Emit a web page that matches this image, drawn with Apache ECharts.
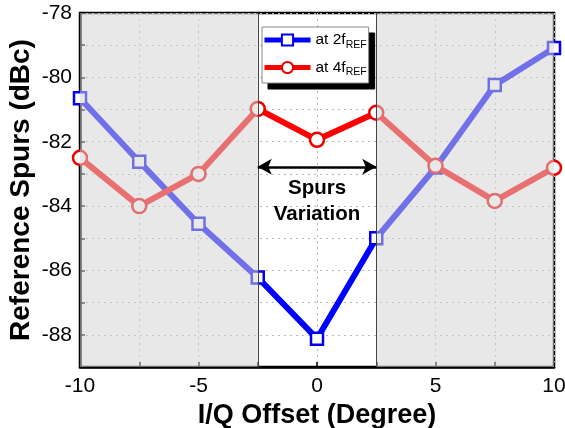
<!DOCTYPE html>
<html>
<head>
<meta charset="utf-8">
<script src="https://cdn.jsdelivr.net/npm/echarts@6/dist/echarts.min.js"></script>
<style>html,body{margin:0;padding:0;background:#fff;}#c{width:565px;height:428px;}</style>
</head>
<body>
<div id="c"></div>
<script>
var xVals = [-10, -7.5, -5, -2.5, 0, 2.5, 5, 7.5, 10];
var spur2f = [-80.65, -82.62, -84.55, -86.22, -88.12, -85.0, -82.8, -80.24, -79.09];
var spur4f = [-82.5, -84.0, -83.0, -80.98, -81.94, -81.1, -82.75, -83.84, -82.81];
var xTicks = [-10, -5, 0, 5, 10];
var yTicks = [-78, -80, -82, -84, -86, -88];
var shadeRanges = [[-10, -2.5], [2.5, 10]];
var bounds = [-2.5, 2.5];
var arrowY = -82.78;
var noteText = 'Spurs\nVariation';
var notePos = [0, -83.85];
var seriesNames = ['at 2f', 'at 4f'];

var FONT = 'Liberation Sans, Arial, sans-serif';
function pairs(xs, ys) { return xs.map(function (x, i) { return [x, ys[i]]; }); }

function legendBase(visible) {
  return {
    data: seriesNames,
    orient: 'vertical',
    selectedMode: false,
    padding: [5, 2, 5, 0],
    itemWidth: 46, itemHeight: 14, itemGap: 9,
    formatter: function (n) { return '{a|' + n + '}{s|REF}'; },
    lineStyle: visible ? { width: 5 } : { width: 5, opacity: 0 },
    itemStyle: visible ? {} : { opacity: 0 },
    textStyle: {
      fontFamily: FONT, color: visible ? '#000' : 'transparent',
      rich: {
        a: { fontFamily: FONT, fontSize: 15.5, color: visible ? '#000' : 'transparent' },
        s: { fontFamily: FONT, fontSize: 10.5, color: visible ? '#000' : 'transparent', padding: [10, 0, 0, 0] }
      }
    }
  };
}
var shadowLegend = legendBase(false);
shadowLegend.left = 268; shadowLegend.top = 33; shadowLegend.z = 19;
shadowLegend.backgroundColor = '#000'; shadowLegend.borderColor = '#000'; shadowLegend.borderWidth = 1;
var mainLegend = legendBase(true);
mainLegend.left = 262; mainLegend.top = 27; mainLegend.z = 20;
mainLegend.backgroundColor = '#fff'; mainLegend.borderColor = '#888'; mainLegend.borderWidth = 1;

var chart = echarts.init(document.getElementById('c'), null, { renderer: 'canvas' });
chart.setOption({
  animation: false,
  backgroundColor: '#fff',
  grid: { left: 80, right: 11, top: 13, bottom: 61, outerBoundsMode: 'none', containLabel: false, show: true, borderColor: '#000', borderWidth: 2.5, backgroundColor: 'transparent' },
  legend: [shadowLegend, mainLegend],
  xAxis: {
    type: 'value', min: -10, max: 10, interval: 2.5,
    axisLine: { show: true, onZero: false, lineStyle: { color: '#000', width: 2.5 } },
    axisTick: { show: true, inside: true, length: 5, lineStyle: { color: '#000', width: 1.5 } },
    axisLabel: {
      fontFamily: FONT, fontSize: 21, color: '#000', margin: 9,
      formatter: function (v) { return xTicks.indexOf(v) >= 0 ? String(v) : ''; }
    },
    splitLine: { show: true, lineStyle: { color: '#b8b8b8', type: [2, 4], width: 1 } },
    name: 'I/Q Offset (Degree)', nameLocation: 'middle', nameGap: 27,
    nameTextStyle: { fontFamily: FONT, fontSize: 27, fontWeight: 'bold', color: '#000' }
  },
  yAxis: {
    type: 'value', min: -89, max: -78, interval: 1,
    axisLine: { show: true, onZero: false, lineStyle: { color: '#000', width: 2.5 } },
    axisTick: { show: true, inside: true, length: 5, lineStyle: { color: '#000', width: 1.5 } },
    axisLabel: {
      fontFamily: FONT, fontSize: 21, color: '#000', margin: 8,
      formatter: function (v) { return yTicks.indexOf(v) >= 0 ? String(v) : ''; }
    },
    splitLine: { show: true, lineStyle: { color: '#b8b8b8', type: [2, 4], width: 1 } },
    name: 'Reference Spurs (dBc)', nameLocation: 'middle', nameGap: 45, nameMoveOverlap: false,
    nameTextStyle: { fontFamily: FONT, fontSize: 28, fontWeight: 'bold', color: '#000' }
  },
  series: [
    {
      name: seriesNames[0], type: 'line', z: 3,
      data: pairs(xVals, spur2f),
      symbol: 'rect', symbolSize: 12,
      lineStyle: { color: '#0000ff', width: 6 },
      itemStyle: { color: '#fff', borderColor: '#0000ee', borderWidth: 2.5 },
      clip: false
    },
    {
      name: seriesNames[1], type: 'line', z: 4,
      data: pairs(xVals, spur4f),
      symbol: 'circle', symbolSize: 14,
      lineStyle: { color: '#ff0000', width: 6 },
      itemStyle: { color: '#fff', borderColor: '#ee0000', borderWidth: 2.5 },
      clip: false
    },
    {
      type: 'line', z: 10, data: [], silent: true,
      markArea: {
        z: 10, silent: true,
        itemStyle: { color: 'rgba(211,211,211,0.53)' },
        data: shadeRanges.map(function (r) { return [{ xAxis: r[0] }, { xAxis: r[1] }]; })
      }
    },
    {
      type: 'line', z: 12, data: [], silent: true,
      markLine: {
        z: 12, silent: true, symbol: 'none', label: { show: false },
        lineStyle: { color: '#444', width: 1, type: 'solid' },
        data: bounds.map(function (b) { return { xAxis: b }; })
      }
    },
    {
      type: 'line', z: 13, data: [], silent: true,
      markLine: {
        z: 13, silent: true, symbol: ['arrow', 'arrow'], symbolSize: [12, 14],
        label: { show: false },
        lineStyle: { color: '#000', width: 2.5, type: 'solid' },
        data: [[{ coord: [bounds[0], arrowY] }, { coord: [bounds[1], arrowY] }]]
      },
      markPoint: {
        z: 13, silent: true, symbol: 'circle', symbolSize: 0,
        label: { show: true, formatter: noteText, fontFamily: FONT, fontSize: 20.5, fontWeight: 'bold', color: '#000', lineHeight: 26, position: 'inside' },
        data: [{ coord: notePos }]
      }
    }
  ]
});
</script>
</body>
</html>
